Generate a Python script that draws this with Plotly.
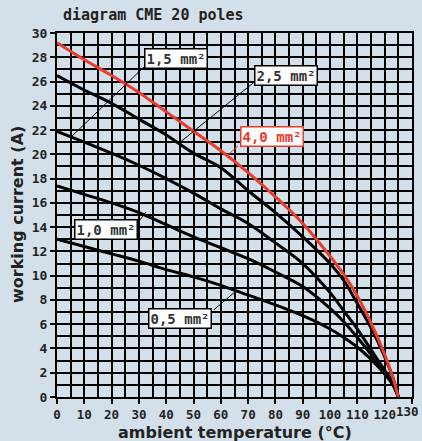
import plotly.graph_objects as go

# ambient temperature (°C)
temp = [0, 10, 20, 30, 40, 50, 60, 70, 80, 90, 100, 105, 110, 115, 120, 123, 125]

# working current (A) per cross-section
i_05 = [13.0, 12.4, 11.8, 11.2, 10.5, 9.9, 9.2, 8.4, 7.6, 6.7, 5.6, 4.9, 4.1, 3.1, 1.9, 1.0, 0]
i_10 = [17.4, 16.7, 16.0, 15.2, 14.2, 13.2, 12.3, 11.4, 10.3, 9.1, 7.3, 6.2, 4.9, 3.5, 2.0, 1.1, 0]
i_15 = [21.9, 21.0, 20.1, 19.1, 18.0, 16.8, 15.5, 14.3, 12.7, 11.0, 8.6, 7.1, 5.6, 3.9, 2.2, 1.2, 0]
i_25 = [26.5, 25.3, 24.2, 22.9, 21.6, 20.1, 18.9, 17.0, 15.2, 13.2, 11.0, 9.6, 7.7, 5.7, 3.3, 1.6, 0]
i_40 = [29.2, 27.8, 26.5, 25.1, 23.5, 21.9, 20.3, 18.5, 16.5, 14.3, 11.6, 10.1, 8.3, 6.1, 3.5, 1.6, 0]

x_ticks = [0, 10, 20, 30, 40, 50, 60, 70, 80, 90, 100, 110, 120, 130]
x_ticktext = ["0", "10", "20", "30", "40", "50", "60", "70", "80", "90", "100", "110", "120", ""]
last_tick = "130"  # drawn separately so it stays inside the page

labels = ["0,5 mm²", "1,0 mm²", "1,5 mm²", "2,5 mm²", "4,0 mm²"]
label_x = [45.1, 17.9, 43.6, 83.9, 78.8]
label_y = [6.5, 13.8, 27.9, 26.5, 21.5]
# leader lines: box corner -> point on curve
lead_x0 = [57.5, 30.0, 33.0, 72.5, 66.3]
lead_y0 = [7.2, 14.5, 27.45, 26.0, 20.7]
lead_x1 = [65.9, 32.6, 4.8, 45.1, 62.3]
lead_y1 = [8.8, 15.25, 21.35, 21.0, 19.9]

RED = "#ec3a2c"
BG = "#d4e0e9"
mono = "DejaVu Sans Mono"
sans = "DejaVu Sans"

fig = go.Figure()
for ys in [i_05, i_10, i_15, i_25]:
    fig.add_trace(go.Scatter(x=temp, y=ys, mode="lines", line=dict(color="black", width=3, shape="spline"),
                             showlegend=False, hoverinfo="skip"))
fig.add_trace(go.Scatter(x=temp, y=i_40, mode="lines", line=dict(color=RED, width=3, shape="spline"),
                         showlegend=False, hoverinfo="skip"))

for k, txt in enumerate(labels):
    col = RED if k == 4 else "black"
    fig.add_shape(type="line", x0=lead_x0[k], y0=lead_y0[k], x1=lead_x1[k], y1=lead_y1[k],
                  line=dict(color=col, width=1))
    fig.add_annotation(x=label_x[k], y=label_y[k], text="<b>" + txt + "</b>", showarrow=False,
                       font=dict(family=mono, size=14, color=RED if k == 4 else "#333"),
                       bgcolor="white", bordercolor=col, borderwidth=1.5, borderpad=1)

fig.add_annotation(x=x_ticks[-1], y=0, xref="x", yref="paper", xanchor="right", yanchor="top",
                   xshift=9, yshift=-5, showarrow=False, text="<b>" + last_tick + "</b>",
                   font=dict(family=mono, size=12.5, color="#222"))

# axis titles
fig.add_annotation(x=0.5, y=0, xref="paper", yref="paper", yanchor="middle", yshift=-35, showarrow=False,
                   text="<b>ambient temperature (°C)</b>", font=dict(family=sans, size=16, color="#222"))
fig.add_annotation(x=0, y=0.5, xref="paper", yref="paper", xanchor="center", xshift=-40, showarrow=False,
                   textangle=-90, text="<b>working current (A)</b>",
                   font=dict(family=sans, size=16, color="#222"))

fig.update_layout(
    width=422, height=441,
    margin=dict(l=57, r=10, t=33, b=44),
    paper_bgcolor=BG, plot_bgcolor=BG,
    title=dict(text="<b>diagram CME 20 poles</b>", x=63 / 422, xref="container", xanchor="left",
               y=1 - 15 / 441, yref="container", yanchor="middle",
               font=dict(family=mono, size=15, color="#222")),
)
fig.update_xaxes(
    range=[0, 130], tickvals=x_ticks, ticktext=x_ticktext, tickangle=0,
    showgrid=True, gridcolor="black", gridwidth=1.5,
    minor=dict(dtick=5, tick0=0, showgrid=True, gridcolor="black", gridwidth=1.5),
    showline=True, linecolor="black", linewidth=2, mirror=True, zeroline=False,
    ticks="outside", ticklen=5, tickwidth=2, tickcolor="black", automargin=False,
    tickfont=dict(family=mono, size=12.5, color="#222", weight="bold"),
)
fig.update_yaxes(
    range=[0, 30], dtick=2, tick0=0, showgrid=True, gridcolor="black", gridwidth=1.5,
    minor=dict(dtick=1, showgrid=True, gridcolor="black", gridwidth=1.5),
    showline=True, linecolor="black", linewidth=2, mirror=True, zeroline=False,
    ticks="outside", ticklen=5, tickwidth=2, tickcolor="black", automargin=False,
    tickfont=dict(family=mono, size=13, color="#222", weight="bold"),
)

fig.write_html("out.html", config={"displayModeBar": False},
               post_script="document.body.style.margin='0';document.body.style.background='%s';" % BG)
